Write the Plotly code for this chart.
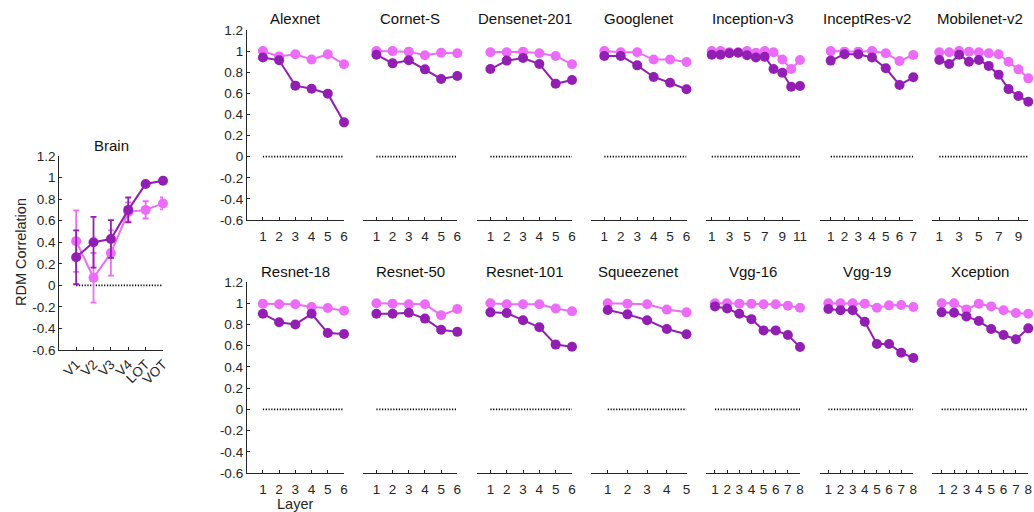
import plotly.graph_objects as go

# ---- data -------------------------------------------------------------
regions = ["V1", "V2", "V3", "V4", "LOT", "VOT"]
brain_light = [0.41, 0.07, 0.30, 0.68, 0.70, 0.76]
brain_light_err = [0.285, 0.23, 0.21, 0.09, 0.08, 0.055]
brain_dark = [0.26, 0.40, 0.43, 0.70, 0.94, 0.97]
brain_dark_err = [0.25, 0.235, 0.175, 0.115, 0.02, 0.02]

alexnet_light = [1.00, 0.95, 0.97, 0.92, 0.97, 0.875]
alexnet_dark = [0.94, 0.913, 0.673, 0.644, 0.597, 0.325]
cornet_light = [1.00, 1.00, 0.995, 0.96, 0.985, 0.98]
cornet_dark = [0.966, 0.884, 0.913, 0.827, 0.736, 0.764]
densenet_light = [0.99, 0.99, 0.995, 0.98, 0.954, 0.875]
densenet_dark = [0.83, 0.91, 0.935, 0.878, 0.69, 0.726]
googlenet_light = [1.00, 0.99, 0.99, 0.92, 0.92, 0.897]
googlenet_dark = [0.954, 0.954, 0.865, 0.755, 0.70, 0.638]
inception_light = [1.00, 1.00, 0.99, 0.99, 1.00, 0.985, 1.00, 0.99, 0.92, 0.83, 0.915]
inception_dark = [0.966, 0.966, 0.98, 0.985, 0.96, 0.94, 0.947, 0.83, 0.795, 0.663, 0.67]
inceptres_light = [1.00, 0.995, 0.995, 1.00, 0.98, 0.906, 0.963]
inceptres_dark = [0.91, 0.97, 0.97, 0.94, 0.837, 0.679, 0.752]
mobilenet_light = [0.99, 0.99, 1.00, 0.995, 0.99, 0.98, 0.97, 0.90, 0.827, 0.742]
mobilenet_dark = [0.916, 0.878, 0.966, 0.90, 0.916, 0.86, 0.777, 0.64, 0.575, 0.52]

resnet18_light = [0.996, 0.99, 0.99, 0.964, 0.955, 0.93]
resnet18_dark = [0.90, 0.82, 0.80, 0.90, 0.72, 0.71]
resnet50_light = [1.00, 0.996, 0.99, 0.99, 0.886, 0.945]
resnet50_dark = [0.90, 0.90, 0.91, 0.855, 0.75, 0.73]
resnet101_light = [1.00, 0.99, 0.99, 0.99, 0.95, 0.925]
resnet101_dark = [0.914, 0.908, 0.84, 0.773, 0.61, 0.59]
squeezenet_light = [1.00, 0.996, 0.99, 0.94, 0.914]
squeezenet_dark = [0.936, 0.895, 0.84, 0.757, 0.707]
vgg16_light = [1.00, 1.00, 0.996, 0.996, 0.99, 0.99, 0.977, 0.958]
vgg16_dark = [0.97, 0.95, 0.90, 0.85, 0.744, 0.744, 0.70, 0.587]
vgg19_light = [1.00, 1.00, 1.00, 0.996, 0.958, 0.98, 0.983, 0.964]
vgg19_dark = [0.945, 0.933, 0.933, 0.826, 0.616, 0.616, 0.534, 0.484]
xception_light = [1.00, 1.00, 0.942, 0.996, 0.97, 0.933, 0.908, 0.90]
xception_dark = [0.914, 0.91, 0.876, 0.832, 0.757, 0.70, 0.66, 0.763]

y_ticks = [-0.6, -0.4, -0.2, 0, 0.2, 0.4, 0.6, 0.8, 1, 1.2]
y_ticktext = ["-0.6", "-0.4", "-0.2", "0", "0.2", "0.4", "0.6", "0.8", "1", "1.2"]

# ---- styling ----------------------------------------------------------
W, H = 1034, 512
DARK = "#931EB4"
LIGHT = "#EC6CF9"
INK = "#262626"
FONT = "Liberation Sans, Arial, Helvetica, sans-serif"

# column placement (pixels): left edge and right edge of each small axis
col_left = [247, 363, 477, 591, 706, 820, 932]
col_right = [344, 457.3, 572, 686.5, 800, 913.3, 1028.3]
row_top = [(30, 220), (282, 473)]
title_y = [18, 271]

panels = [
    # (title, light, dark, tickvals, x-start, row, col)
    ("Alexnet", alexnet_light, alexnet_dark, None, 0.02, 0, 0),
    ("Cornet-S", cornet_light, cornet_dark, None, 0.17, 0, 1),
    ("Densenet-201", densenet_light, densenet_dark, None, 0.18, 0, 2),
    ("Googlenet", googlenet_light, googlenet_dark, None, 0.19, 0, 3),
    ("Inception-v3", inception_light, inception_dark, [1, 3, 5, 7, 9, 11], 0.35, 0, 4),
    ("InceptRes-v2", inceptres_light, inceptres_dark, None, 0.22, 0, 5),
    ("Mobilenet-v2", mobilenet_light, mobilenet_dark, [1, 3, 5, 7, 9], 0.26, 0, 6),
    ("Resnet-18", resnet18_light, resnet18_dark, None, 0.02, 1, 0),
    ("Resnet-50", resnet50_light, resnet50_dark, None, 0.17, 1, 1),
    ("Resnet-101", resnet101_light, resnet101_dark, None, 0.18, 1, 2),
    ("Squeezenet", squeezenet_light, squeezenet_dark, None, 0.15, 1, 3),
    ("Vgg-16", vgg16_light, vgg16_dark, None, 0.26, 1, 4),
    ("Vgg-19", vgg19_light, vgg19_dark, None, 0.31, 1, 5),
    ("Xception", xception_light, xception_dark, None, 0.22, 1, 6),
]

fig = go.Figure()
layout = {}
annotations = []


def px_x(v):
    return v / W


def px_y(v):
    return 1 - v / H


def axis_common():
    return dict(
        showgrid=False, zeroline=False, linecolor=INK, linewidth=1.3,
        tickcolor=INK, tickwidth=1.2, ticklen=3, ticks="inside",
        automargin=False,
        tickfont=dict(family=FONT, size=13.5, color=INK),
    )


def add_series(k, x, light, dark, light_err=None, dark_err=None):
    xa, ya = ("x", "y") if k == 1 else (f"x{k}", f"y{k}")
    fig.add_trace(go.Scatter(
        x=[x[0], x[-1]], y=[0, 0], mode="lines", xaxis=xa, yaxis=ya,
        line=dict(color="black", width=1.6, dash="1.2px,1.6px"),
        hoverinfo="skip", showlegend=False, cliponaxis=False))
    for vals, err, color in ((light, light_err, LIGHT), (dark, dark_err, DARK)):
        tr = dict(
            x=x, y=vals, mode="lines+markers", xaxis=xa, yaxis=ya,
            line=dict(color=color, width=2),
            marker=dict(color=color, size=10, line=dict(width=0)),
            showlegend=False, cliponaxis=False)
        if err is not None:
            tr["error_y"] = dict(type="data", array=err, visible=True,
                                 color=color, thickness=1.8, width=3)
        fig.add_trace(go.Scatter(**tr))


# ---- brain panel -------------------------------------------------------
k = 1
add_series(k, regions, brain_light, brain_dark, brain_light_err, brain_dark_err)
xb = axis_common()
xb.update(domain=[px_x(59.3), px_x(163)], range=[-0.97, 5], anchor="y",
          showline=True, type="category", categoryorder="array",
          categoryarray=regions, tickangle=-45)
yb = axis_common()
yb.update(domain=[px_y(350), px_y(156)], range=[-0.6, 1.2], anchor="x",
          showline=True, tickvals=y_ticks, ticktext=y_ticktext)
layout["xaxis"] = xb
layout["yaxis"] = yb
annotations.append(dict(x=px_x(111), y=px_y(145), text="Brain"))

# ---- network panels ----------------------------------------------------
for i, (name, light, dark, tv, x0, row, col) in enumerate(panels):
    k = i + 2
    n = len(light)
    layers = list(range(1, n + 1))
    add_series(k, layers, light, dark)
    L, R = col_left[col], col_right[col]
    top, bottom = row_top[row]
    xa = axis_common()
    xa.update(domain=[px_x(L), px_x(R)], range=[x0, n], anchor=f"y{k}",
              showline=True, tickvals=tv if tv else layers, ticklabelstandoff=4)
    ya = axis_common()
    ya.update(domain=[px_y(bottom), px_y(top)], range=[-0.6, 1.2], anchor=f"x{k}")
    if col == 0:
        ya.update(showline=True, tickvals=y_ticks, ticktext=y_ticktext)
    else:
        ya.update(visible=False)
    layout[f"xaxis{k}"] = xa
    layout[f"yaxis{k}"] = ya
    annotations.append(dict(x=px_x((L + R) / 2), y=px_y(title_y[row]), text=name))

titles = [dict(a, xref="paper", yref="paper", xanchor="center", yanchor="middle",
               showarrow=False, font=dict(family=FONT, size=15, color="#111111"))
          for a in annotations]
titles.append(dict(x=px_x(21), y=px_y(252), text="RDM Correlation", textangle=-90,
                   xref="paper", yref="paper", xanchor="center", yanchor="middle",
                   showarrow=False, font=dict(family=FONT, size=14.5, color=INK)))
titles.append(dict(x=px_x(295), y=px_y(504), text="Layer",
                   xref="paper", yref="paper", xanchor="center", yanchor="middle",
                   showarrow=False, font=dict(family=FONT, size=14.5, color=INK)))

fig.update_layout(
    width=W, height=H, margin=dict(l=0, r=0, t=0, b=0, autoexpand=False),
    paper_bgcolor="white", plot_bgcolor="white",
    annotations=titles, **layout,
)

fig.write_html("out.html")
